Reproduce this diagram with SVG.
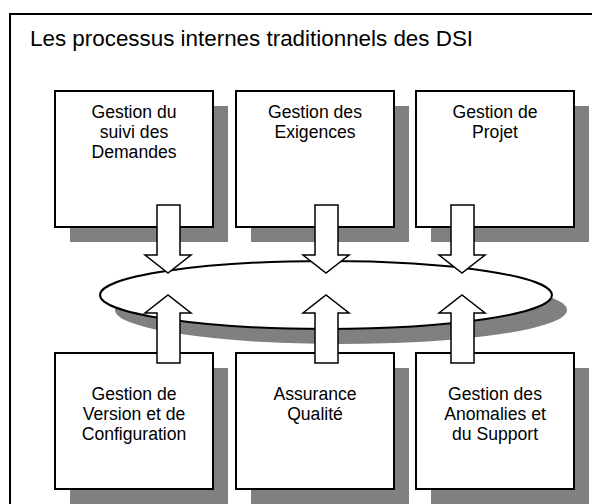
<svg xmlns="http://www.w3.org/2000/svg" width="592" height="504" viewBox="0 0 592 504">
  <style>
    .frame { fill: #fff; stroke: #000; stroke-width: 2; }
    .box { fill: #fff; stroke: #000; stroke-width: 2; }
    .shadow { fill: #808080; }
    .arrow { fill: #fff; stroke: #000; stroke-width: 1.5; stroke-linejoin: miter; }
    .title { font-family: "Liberation Sans", Arial, sans-serif; font-size: 22.4px; fill: #000; }
    .label { font-family: "Liberation Sans", Arial, sans-serif; font-size: 17.6px; fill: #000; text-anchor: middle; }
  </style>
  <rect width="592" height="504" fill="#fff"/>
  <!-- outer frame -->
  <rect class="frame" x="10" y="14" width="600" height="520"/>
  <text class="title" x="30" y="46">Les processus internes traditionnels des DSI</text>

  <!-- central hub -->
  <g id="hub">
    <ellipse class="shadow" cx="341" cy="310" rx="226" ry="34"/>
    <ellipse class="box" cx="326" cy="295" rx="226" ry="34"/>
  </g>

  <!-- top row -->
  <g id="suivi-demandes">
    <rect class="shadow" x="70" y="106" width="158" height="136"/>
    <rect class="box" x="55" y="91" width="158" height="136"/>
    <text class="label" x="134" y="118">Gestion du</text>
    <text class="label" x="134" y="138">suivi des</text>
    <text class="label" x="134" y="158">Demandes</text>
  </g>
  <g id="exigences">
    <rect class="shadow" x="251" y="106" width="158" height="136"/>
    <rect class="box" x="236" y="91" width="158" height="136"/>
    <text class="label" x="315" y="118">Gestion des</text>
    <text class="label" x="315" y="138">Exigences</text>
  </g>
  <g id="projet">
    <rect class="shadow" x="431" y="106" width="158" height="136"/>
    <rect class="box" x="416" y="91" width="158" height="136"/>
    <text class="label" x="495" y="118">Gestion de</text>
    <text class="label" x="495" y="138">Projet</text>
  </g>

  <!-- bottom row -->
  <g id="version-configuration">
    <rect class="shadow" x="70" y="368" width="158" height="136"/>
    <rect class="box" x="55" y="353" width="158" height="136"/>
    <text class="label" x="134" y="400">Gestion de</text>
    <text class="label" x="134" y="420">Version et de</text>
    <text class="label" x="134" y="440">Configuration</text>
  </g>
  <g id="assurance-qualite">
    <rect class="shadow" x="251" y="368" width="158" height="136"/>
    <rect class="box" x="236" y="353" width="158" height="136"/>
    <text class="label" x="315" y="400">Assurance</text>
    <text class="label" x="315" y="420">Qualité</text>
  </g>
  <g id="anomalies-support">
    <rect class="shadow" x="431" y="368" width="158" height="136"/>
    <rect class="box" x="416" y="353" width="158" height="136"/>
    <text class="label" x="495" y="400">Gestion des</text>
    <text class="label" x="495" y="420">Anomalies et</text>
    <text class="label" x="495" y="440">du Support</text>
  </g>

  <!-- block arrows to and from the hub -->
  <g id="connectors">
    <polygon class="arrow" points="157,205 180,205 180,255 191,255 168,273 145,255 157,255"/>
    <polygon class="arrow" points="315,205 338,205 338,255 349,255 326,273 303,255 315,255"/>
    <polygon class="arrow" points="451,205 474,205 474,255 485,255 462,273 439,255 451,255"/>
    <polygon class="arrow" points="157,363 180,363 180,313 191,313 168,295 145,313 157,313"/>
    <polygon class="arrow" points="315,363 338,363 338,313 349,313 326,295 303,313 315,313"/>
    <polygon class="arrow" points="451,363 474,363 474,313 485,313 462,295 439,313 451,313"/>
  </g>
</svg>
